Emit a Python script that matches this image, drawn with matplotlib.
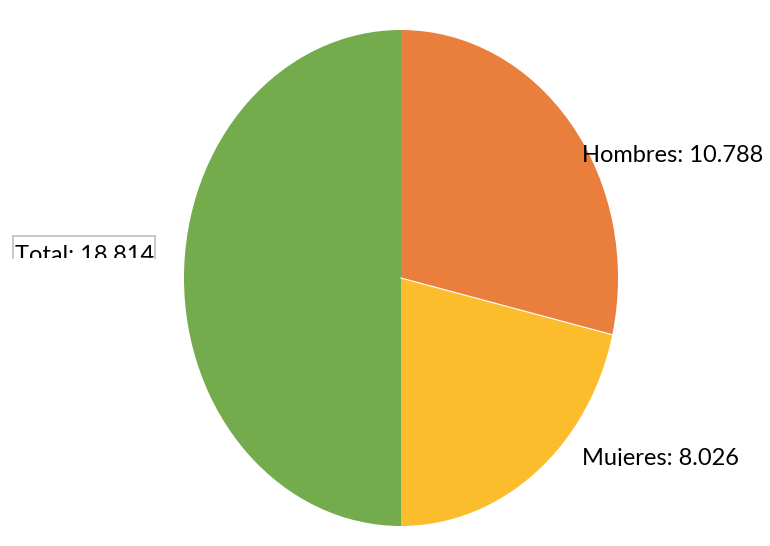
import matplotlib
matplotlib.use("Agg")
import numpy as np
import matplotlib.pyplot as plt
from matplotlib.transforms import Bbox
from matplotlib.lines import Line2D

categories = ["Hombres", "Mujeres", "Total"]
values = [10.788, 8.026, 18.814]
labels = ["Hombres: 10.788", "Mujeres: 8.026", "Total: 18.814"]
colors = ["#EA7E3D", "#FCBD2D", "#73AB4D"]

W, H = 770, 546
fig = plt.figure(figsize=(W / 100, H / 100), dpi=100)
plt.rcParams['font.family'] = ['Lato', 'DejaVu Sans']

# ellipse: center (401, 278), rx 217, ry 248 (pixels, top origin)
cx, cy, rx, ry = 401, 278, 217, 248
ax = fig.add_axes([(cx - rx) / W, (H - cy - ry) / H, 2 * rx / W, 2 * ry / H])
wedges, _ = ax.pie(values, colors=colors, startangle=90, counterclock=False,
                   wedgeprops=dict(linewidth=0))
# thin white separator between Hombres and Mujeres
ang = np.deg2rad(90 - 360 * values[0] / sum(values))
ax.plot([0, np.cos(ang)], [0, np.sin(ang)], color="white", linewidth=0.8)
ax.set_aspect("auto")
ax.set_xlim(-1, 1)
ax.set_ylim(-1, 1)
ax.axis("off")

fs = 17

def px(x, y):
    return x / W, 1 - y / H

fig.text(*px(582, 162), labels[0], fontsize=fs, ha="left", va="baseline", color="black")
t = fig.text(*px(582, 465), labels[1], fontsize=fs, ha="left", va="baseline", color="black")
t.set_clip_box(Bbox([[575, H - 466], [770, H - 435]]))
t.set_clip_on(True)
t2 = fig.text(*px(15, 262), labels[2], fontsize=fs, ha="left", va="baseline", color="black")
t2.set_clip_box(Bbox([[13, H - 258], [156, H - 236]]))
t2.set_clip_on(True)

bx0, bx1, by0, by1 = 13, 155, 236, 258
for xs, ys in [([bx0, bx1], [by0, by0]), ([bx0, bx0], [by0, by1]), ([bx1, bx1], [by0, by1])]:
    fig.add_artist(Line2D([x / W for x in xs], [1 - y / H for y in ys],
                          color="#BFBFBF", linewidth=1.2, transform=fig.transFigure))

fig.savefig("out.png", dpi=100)
